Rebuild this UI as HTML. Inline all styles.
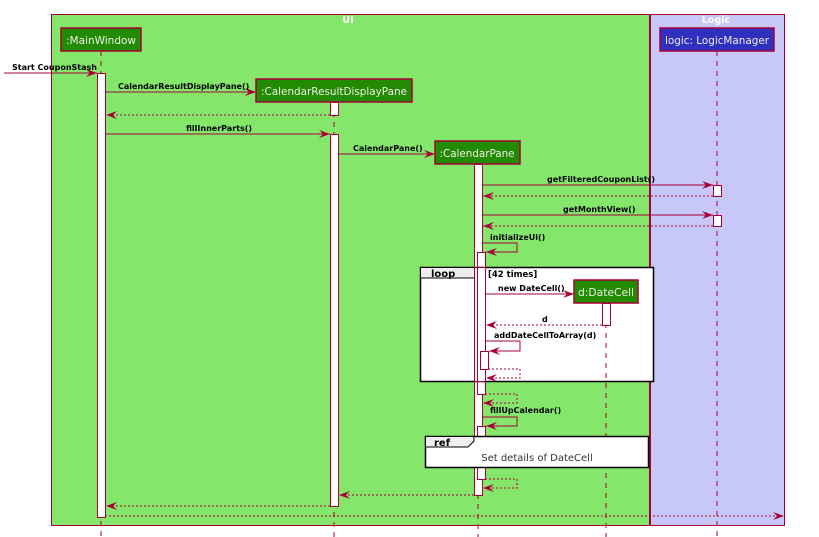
<!DOCTYPE html>
<html><head><meta charset="utf-8"><style>
html,body{margin:0;padding:0;background:#fff;}
svg{display:block;font-family:"DejaVu Sans","Liberation Sans",sans-serif;}
.m{font-size:8px;font-weight:bold;fill:#000;}
.p{font-size:10.5px;fill:#eee;}
</style></head><body>
<svg width="819" height="537" viewBox="0 0 819 537" xmlns="http://www.w3.org/2000/svg">
<defs>
<marker id="a" markerWidth="12" markerHeight="10" refX="11" refY="5" orient="auto" markerUnits="userSpaceOnUse">
<path d="M0,1 L11,5 L0,9 L4,5 Z" fill="#A80036"/></marker>
</defs>
<rect x="51.5" y="14.5" width="598" height="511" fill="#84e76c" stroke="#A80036"/>
<rect x="650.5" y="14.5" width="134" height="511" fill="#c8c8f8" stroke="#A80036"/>
<line x1="650" y1="14" x2="650" y2="525" stroke="#A80036" stroke-width="2"/>
<text x="348" y="23" font-size="9.5" font-weight="bold" fill="#fff" text-anchor="middle">UI</text>
<text x="716" y="23" font-size="9.5" font-weight="bold" fill="#fff" text-anchor="middle">Logic</text>
<g stroke="#A80036" stroke-dasharray="5,5" stroke-width="1">
<line x1="101" y1="51" x2="101" y2="537"/>
<line x1="334" y1="102" x2="334" y2="537"/>
<line x1="478" y1="164" x2="478" y2="537"/>
<line x1="717" y1="51" x2="717" y2="537"/>
</g>
<g stroke="#A80036" stroke-width="1.5">
<rect x="61" y="28" width="80" height="23" fill="#228B00"/>
<rect x="256" y="79" width="156" height="23" fill="#228B00"/>
<rect x="435" y="141" width="85" height="23" fill="#228B00"/>
<rect x="660" y="28" width="114" height="23" fill="#3030c0"/>
</g>
<text class="p" x="101" y="44" text-anchor="middle" textLength="70" lengthAdjust="spacingAndGlyphs">:MainWindow</text>
<text class="p" x="334" y="95" text-anchor="middle" textLength="146" lengthAdjust="spacingAndGlyphs">:CalendarResultDisplayPane</text>
<text class="p" x="477" y="157" text-anchor="middle" textLength="75" lengthAdjust="spacingAndGlyphs">:CalendarPane</text>
<text class="p" x="717" y="44" text-anchor="middle" textLength="104" lengthAdjust="spacingAndGlyphs">logic: LogicManager</text>
<g fill="#fff" stroke="#A80036">
<rect x="97.5" y="73.5" width="8" height="444"/>
<rect x="330.5" y="102.5" width="8" height="13"/>
<rect x="330.5" y="134.5" width="8" height="372"/>
<rect x="474.5" y="164.5" width="8" height="331"/>
<rect x="713.5" y="185.5" width="8" height="11"/>
<rect x="713.5" y="215.5" width="8" height="11"/>
<rect x="477.5" y="252.5" width="8" height="142"/>
</g>
<!-- loop frame -->
<rect x="420.5" y="267.5" width="233" height="114" fill="#fff" stroke="#000" stroke-width="1.5"/>
<path d="M420.5,267.5 H483 V272 L477,278 H420.5 Z" fill="#eee" stroke="#000"/>
<text x="431" y="277" font-size="10" font-weight="bold">loop</text>
<text x="488" y="277" font-size="8.5" font-weight="bold">[42 times]</text>
<line x1="606" y1="303" x2="606" y2="537" stroke="#A80036" stroke-dasharray="5,5"/>
<rect x="574" y="280" width="64" height="23" fill="#228B00" stroke="#A80036" stroke-width="1.5"/>
<text class="p" x="606" y="296" text-anchor="middle" textLength="56" lengthAdjust="spacingAndGlyphs">d:DateCell</text>
<g fill="#fff" stroke="#A80036">
<rect x="474.5" y="267.5" width="8" height="114"/>
<rect x="477.5" y="267.5" width="8" height="114"/>
<rect x="602.5" y="303.5" width="8" height="22"/>
<rect x="480.5" y="351.5" width="8" height="18"/>
</g>
<g fill="#fff" stroke="#A80036">
<rect x="477.5" y="426.5" width="8" height="53"/>
</g>
<!-- ref frame -->
<rect x="425.5" y="436.5" width="223" height="31" fill="#fff" stroke="#000" stroke-width="1.5"/>
<path d="M425.5,436.5 H474 V441 L468,447 H425.5 Z" fill="#eee" stroke="#000"/>
<text x="434" y="446" font-size="10" font-weight="bold">ref</text>
<text x="537" y="461" font-size="10" fill="#333" text-anchor="middle">Set details of DateCell</text>
<!-- messages -->
<g stroke="#A80036" fill="none" stroke-width="1">
<line x1="4" y1="73" x2="97" y2="73" marker-end="url(#a)"/>
<line x1="105" y1="92" x2="256" y2="92" marker-end="url(#a)"/>
<line x1="330" y1="115" x2="106" y2="115" stroke-dasharray="2,2" marker-end="url(#a)"/>
<line x1="105" y1="134" x2="330" y2="134" marker-end="url(#a)"/>
<line x1="338" y1="154" x2="435" y2="154" marker-end="url(#a)"/>
<line x1="482" y1="185" x2="713" y2="185" marker-end="url(#a)"/>
<line x1="713" y1="196" x2="483" y2="196" stroke-dasharray="2,2" marker-end="url(#a)"/>
<line x1="482" y1="215" x2="713" y2="215" marker-end="url(#a)"/>
<line x1="713" y1="226" x2="483" y2="226" stroke-dasharray="2,2" marker-end="url(#a)"/>
<polyline points="482,243 517,243 517,252 486,252" marker-end="url(#a)"/>
<line x1="485" y1="294" x2="574" y2="294" marker-end="url(#a)"/>
<line x1="602" y1="325" x2="486" y2="325" stroke-dasharray="2,2" marker-end="url(#a)"/>
<polyline points="485,341 520,341 520,351 489,351" marker-end="url(#a)"/>
<polyline points="488,369 520,369 520,378 486,378" stroke-dasharray="2,2" marker-end="url(#a)"/>
<polyline points="485,394 517,394 517,403 483,403" stroke-dasharray="2,2" marker-end="url(#a)"/>
<polyline points="482,417 517,417 517,426 486,426" marker-end="url(#a)"/>
<polyline points="485,479 517,479 517,488 483,488" stroke-dasharray="2,2" marker-end="url(#a)"/>
<line x1="474" y1="495" x2="339" y2="495" stroke-dasharray="2,2" marker-end="url(#a)"/>
<line x1="330" y1="506" x2="106" y2="506" stroke-dasharray="2,2" marker-end="url(#a)"/>
<line x1="105" y1="516" x2="784" y2="516" stroke-dasharray="2,2" marker-end="url(#a)"/>
</g>
<text class="m" x="12" y="70">Start CouponStash</text>
<text class="m" x="118" y="89">CalendarResultDisplayPane()</text>
<text class="m" x="186" y="131">fillInnerParts()</text>
<text class="m" x="353" y="151">CalendarPane()</text>
<text class="m" x="547" y="182">getFilteredCouponList()</text>
<text class="m" x="563" y="212">getMonthView()</text>
<text class="m" x="490" y="240">initializeUi()</text>
<text class="m" x="498" y="291">new DateCell()</text>
<text class="m" x="542" y="322">d</text>
<text class="m" x="494" y="338">addDateCellToArray(d)</text>
<text class="m" x="490" y="413">fillUpCalendar()</text>
</svg>
</body></html>
